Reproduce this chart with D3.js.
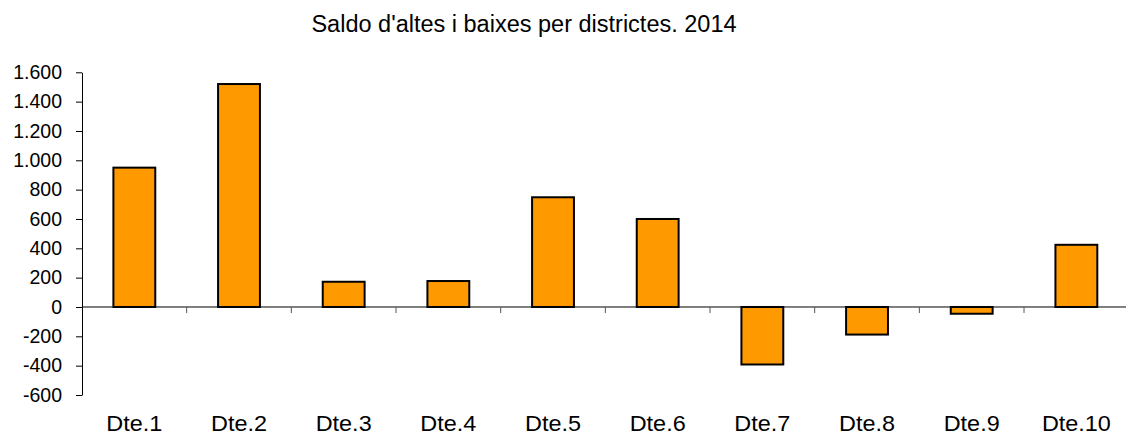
<!DOCTYPE html>
<html>
<head>
<meta charset="utf-8">
<script src="https://cdn.jsdelivr.net/npm/d3@7"></script>
<style>
  html, body { margin: 0; padding: 0; background: #fff; }
  svg { display: block; font-family: "Liberation Sans", Arial, sans-serif; }
</style>
</head>
<body>
<div id="chart"></div>
<script>
const districts = ["Dte.1", "Dte.2", "Dte.3", "Dte.4", "Dte.5", "Dte.6", "Dte.7", "Dte.8", "Dte.9", "Dte.10"];
const saldo = [950, 1520, 172, 177, 748, 600, -392, -188, -46, 424];
const yTicks = [-600, -400, -200, 0, 200, 400, 600, 800, 1000, 1200, 1400, 1600];
const title = "Saldo d'altes i baixes per districtes. 2014";

const W = 1126, H = 435;
const plot = { left: 82, right: 1128.7, top: 72.3, bottom: 395 };

const svg = d3.select("#chart").append("svg")
  .attr("width", W).attr("height", H)
  .attr("viewBox", `0 0 ${W} ${H}`);

const x = d3.scaleBand().domain(districts).range([plot.left, plot.right]);
const y = d3.scaleLinear().domain([-600, 1600]).range([plot.bottom, plot.top]);

// "." as thousands separator, plain hyphen for negatives
const fmt = d3.formatLocale({
  decimal: ",", thousands: ".", grouping: [3], currency: ["", "€"], minus: "-",
}).format(",d");

// ─── title ───────────────────────────────────────────────────────────
svg.append("text")
  .attr("x", 524).attr("y", 32)
  .attr("text-anchor", "middle")
  .attr("font-size", 23.5)
  .attr("fill", "#000")
  .text(title);

// ─── bars ────────────────────────────────────────────────────────────
const barW = x.bandwidth() * 0.4;
svg.append("g").selectAll("rect")
  .data(districts.map((d, i) => ({ d, v: saldo[i] })))
  .join("rect")
  .attr("x", (d) => x(d.d) + (x.bandwidth() - barW) / 2)
  .attr("y", (d) => y(Math.max(0, d.v)))
  .attr("width", barW)
  .attr("height", (d) => Math.abs(y(d.v) - y(0)))
  .attr("fill", "#ff9900")
  .attr("stroke", "#000")
  .attr("stroke-width", 2);

// ─── y axis ──────────────────────────────────────────────────────────
const yAxis = svg.append("g")
  .attr("transform", `translate(${plot.left},0)`)
  .call(d3.axisLeft(y).tickValues(yTicks).tickFormat(fmt).tickSize(6).tickSizeOuter(0));
yAxis.select(".domain").attr("stroke", "#000");
yAxis.selectAll(".tick line").attr("stroke", "#000");
yAxis.selectAll(".tick text")
  .attr("x", -20)
  .attr("font-size", 19.5)
  .attr("font-family", "Liberation Sans, Arial, sans-serif")
  .attr("fill", "#000");

// ─── zero line with ticks between categories ─────────────────────────
const zero = svg.append("g");
zero.append("line")
  .attr("x1", plot.left).attr("x2", plot.right)
  .attr("y1", y(0)).attr("y2", y(0))
  .attr("stroke", "#000");
zero.selectAll("line.sep")
  .data(districts.slice(1))
  .join("line")
  .attr("class", "sep")
  .attr("x1", (d) => x(d)).attr("x2", (d) => x(d))
  .attr("y1", y(0)).attr("y2", y(0) + 6)
  .attr("stroke", "#555");

// ─── category labels (slightly stretched, like the original) ─────────
svg.append("g").selectAll("text")
  .data(districts)
  .join("text")
  .attr("transform", (d) => `translate(${x(d) + x.bandwidth() / 2},431) scale(1.09,1)`)
  .attr("text-anchor", "middle")
  .attr("font-size", 21.5)
  .attr("fill", "#000")
  .text((d) => d);
</script>
</body>
</html>
